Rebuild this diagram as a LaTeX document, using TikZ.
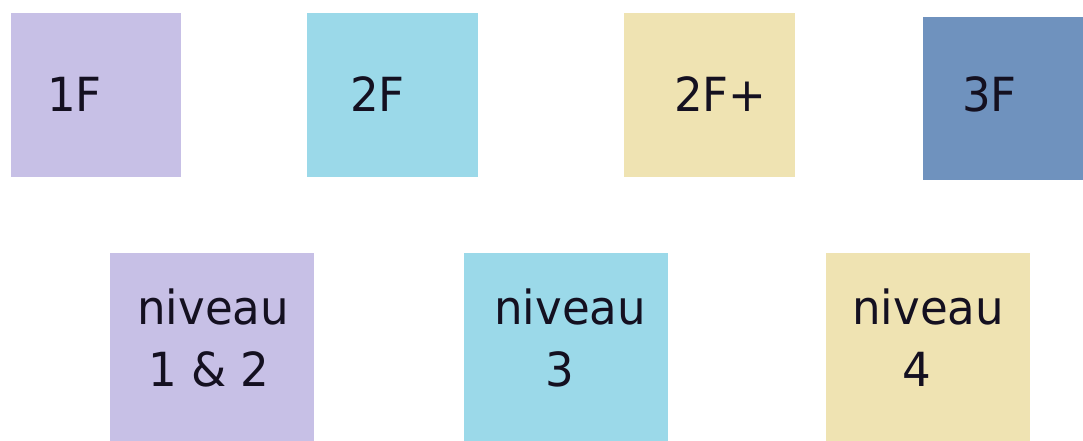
\documentclass[tikz,border=0pt]{standalone}
\usepackage{fontspec}
\setmainfont[FakeStretch=0.96]{DejaVu Sans}
\definecolor{lav}{HTML}{C7C0E6}
\definecolor{sky}{HTML}{9BD9E9}
\definecolor{sand}{HTML}{EFE3B2}
\definecolor{steel}{HTML}{6F92BE}
\definecolor{ink}{HTML}{141020}
\begin{document}
\begin{tikzpicture}[x=1pt,y=-1pt,
  tile/.style={fill=#1,draw=none},
  lbl/.style={anchor=base west,inner sep=0pt,text=ink,font=\fontsize{47}{56}\selectfont}]
\useasboundingbox (0,0) rectangle (1083,441);
% top row
\path[tile=lav]   (11,13) rectangle (181,177) coordinate (b1);
\path[tile=sky]   (307,13) rectangle (478,177) coordinate (b2);
\path[tile=sand]  (624,13) rectangle (795,177) coordinate (b3);
\path[tile=steel] (923,17) rectangle (1083,180) coordinate (b4);
\node[lbl] (t1) at (47,111) {1F};
\node[lbl] (t2) at (350,111) {2F};
\node[lbl] (t3) at (674,111) {2F+};
\node[lbl] (t4) at (962,111) {3F};
% bottom row
\path[tile=lav]  (110,253) rectangle (314,441) coordinate (c1);
\path[tile=sky]  (464,253) rectangle (668,441) coordinate (c2);
\path[tile=sand] (826,253) rectangle (1030,441) coordinate (c3);
\node[lbl] (n1a) at (137,324) {niveau};
\node[lbl] (n1b) at (148,386) {1 \& 2};
\node[lbl] (n2a) at (494,324) {niveau};
\node[lbl] (n2b) at (545,386) {3};
\node[lbl] (n3a) at (852,324) {niveau};
\node[lbl] (n3b) at (902,386) {4};
\end{tikzpicture}
\end{document}
